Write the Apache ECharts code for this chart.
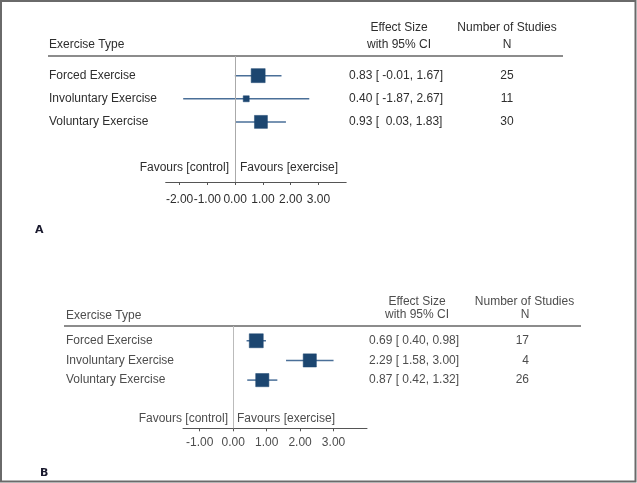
<!DOCTYPE html>
<html><head><meta charset="utf-8">
<script src="https://cdn.jsdelivr.net/npm/echarts@6/dist/echarts.min.js"></script>
<style>html,body{margin:0;padding:0;background:#fff}#c{width:637px;height:483px}</style>
</head><body><div id="c"></div>
<script>
// ---------- data ----------
const rowLabels = ['Forced Exercise', 'Involuntary Exercise', 'Voluntary Exercise'];
// Panel A
const estA = [0.83, 0.40, 0.93];
const loA = [-0.01, -1.87, 0.03];
const hiA = [1.67, 2.67, 1.83];
const nA = [25, 11, 30];
const weightA = [49, 9, 42];
const ticksA = [-2, -1, 0, 1, 2, 3];
// Panel B
const estB = [0.69, 2.29, 0.87];
const loB = [0.40, 1.58, 0.42];
const hiB = [0.98, 3.00, 1.32];
const nB = [17, 4, 26];
const weightB = [36, 32, 32];
const ticksB = [-1, 0, 1, 2, 3];

// ---------- styles ----------
const FONT = '"Liberation Sans", Arial, sans-serif';
const colA = '#2e2e2e', colB = '#4d4d4d';
const boxColor = '#1c4670', ciColor = '#4a6f98';

function fmtA(e, l, h) { return e.toFixed(2) + ' [' + (l < 0 ? ' ' : '  ') + l.toFixed(2) + ', ' + h.toFixed(2) + ']'; }
function fmtB(e, l, h) { return e.toFixed(2) + ' [ ' + l.toFixed(2) + ', ' + h.toFixed(2) + ']'; }

function forestData(est, lo, hi, w) { return est.map((e, i) => [e, i, lo[i], hi[i], w[i]]); }

function forestRender(k) {
  return function (params, api) {
    const e = api.value(0), r = api.value(1), l = api.value(2), h = api.value(3), w = api.value(4);
    const p0 = api.coord([l, r]), p1 = api.coord([h, r]), pc = api.coord([e, r]);
    const s = Math.sqrt(w) * k;
    return { type: 'group', children: [
      { type: 'line', shape: { x1: p0[0], y1: p0[1], x2: p1[0], y2: p1[1] }, style: { stroke: ciColor, lineWidth: 1.5 } },
      { type: 'rect', shape: { x: pc[0] - s / 2, y: pc[1] - s / 2, width: s, height: s }, style: { fill: boxColor, stroke: boxColor, lineWidth: 0.5 } }
    ]};
  };
}

function textRender(cfg) {
  return function (params, api) {
    const i = params.dataIndex;
    const y = api.coord([0, api.value(0)])[1];
    const st = (t, x, align) => ({ type: 'text', x: x, y: y, style: { text: t, fontSize: 12, fontFamily: FONT, fill: cfg.color, align: align, verticalAlign: 'middle' } });
    return { type: 'group', children: [
      st(rowLabels[i], cfg.labelX, 'left'),
      st(cfg.fmt(cfg.est[i], cfg.lo[i], cfg.hi[i]), cfg.esX, 'left'),
      st(String(cfg.n[i]), cfg.nX, cfg.nAlign)
    ]};
  };
}

function xAxisCfg(gi, min, max, ticks, margin) {
  return {
    type: 'value', gridIndex: gi, min: min, max: max, position: 'bottom',
    axisLine: { show: true, onZero: false, lineStyle: { color: '#555', width: 1 } },
    axisTick: { show: true, length: 3, customValues: ticks, lineStyle: { color: '#555' } },
    axisLabel: { customValues: ticks, formatter: v => v.toFixed(2), fontSize: 12, fontFamily: FONT, color: gi === 0 ? colA : colB, margin: margin },
    splitLine: { show: false }
  };
}

const chart = echarts.init(document.getElementById('c'), null, { renderer: 'canvas' });
const txt = (t, x, y, align, color, extra) => Object.assign({ type: 'text', x: x, y: y, silent: true,
  style: { text: t, fontSize: 12, fontFamily: FONT, fill: color, align: align, verticalAlign: 'middle' } }, extra || {});

chart.setOption({
  animation: false,
  backgroundColor: '#fff',
  grid: [
    { left: 165.7, top: 56, width: 180.5, height: 126 },
    { left: 183, top: 326, width: 184, height: 102.3 }
  ],
  xAxis: [ xAxisCfg(0, -2.5, 4, ticksA, 11.5), xAxisCfg(1, -1.5, 4, ticksB, 8.5) ],
  yAxis: [
    { type: 'value', gridIndex: 0, min: -0.85, max: 4.6, inverse: true, show: false },
    { type: 'value', gridIndex: 1, min: -0.75, max: 4.45, inverse: true, show: false }
  ],
  series: [
    { type: 'custom', xAxisIndex: 0, yAxisIndex: 0, clip: false, renderItem: forestRender(2.0),
      data: forestData(estA, loA, hiA, weightA), encode: { x: 0, y: 1 }, z: 3,
      markLine: { silent: true, symbol: 'none', label: { show: false }, lineStyle: { color: '#aaaaaa', type: 'solid', width: 1 }, data: [{ xAxis: 0 }] } },
    { type: 'custom', xAxisIndex: 1, yAxisIndex: 1, clip: false, renderItem: forestRender(2.33),
      data: forestData(estB, loB, hiB, weightB), encode: { x: 0, y: 1 }, z: 3,
      markLine: { silent: true, symbol: 'none', label: { show: false }, lineStyle: { color: '#bbbbbb', type: 'solid', width: 1 }, data: [{ xAxis: 0 }] } },
    { type: 'custom', xAxisIndex: 0, yAxisIndex: 0, clip: false,
      data: rowLabels.map((_, i) => [i]), encode: { y: 0 },
      renderItem: textRender({ color: colA, labelX: 49, esX: 349, nX: 507, nAlign: 'center', fmt: fmtA, est: estA, lo: loA, hi: hiA, n: nA }) },
    { type: 'custom', xAxisIndex: 1, yAxisIndex: 1, clip: false,
      data: rowLabels.map((_, i) => [i]), encode: { y: 0 },
      renderItem: textRender({ color: colB, labelX: 66, esX: 369, nX: 529, nAlign: 'right', fmt: fmtB, est: estB, lo: loB, hi: hiB, n: nB }) }
  ],
  graphic: [
    // border
    { type: 'rect', shape: { x: 1, y: 1, width: 634.5, height: 480.5 }, style: { fill: 'none', stroke: '#6a6a6a', lineWidth: 2 }, silent: true },
    // Panel A header
    txt('Exercise Type', 49, 45, 'left', colA),
    txt('Effect Size', 399, 28, 'center', colA),
    txt('with 95% CI', 399, 45, 'center', colA),
    txt('Number of Studies', 507, 28, 'center', colA),
    txt('N', 507, 45, 'center', colA),
    { type: 'line', shape: { x1: 48, y1: 56, x2: 563, y2: 56 }, style: { stroke: '#666', lineWidth: 1.5 }, silent: true },
    txt('Favours [control]', 229, 168, 'right', colA),
    txt('Favours [exercise]', 240, 168, 'left', colA),
    txt('A', 35, 230, 'left', '#1a1a2e', { style: { text: 'A', fontSize: 11, fontWeight: 'bold', fontFamily: '"DejaVu Sans", sans-serif', fill: '#1a1a2e', align: 'left', verticalAlign: 'middle' } }),
    // Panel B header
    txt('Exercise Type', 66, 316, 'left', colB),
    txt('Effect Size', 417, 302, 'center', colB),
    txt('with 95% CI', 417, 315, 'center', colB),
    txt('Number of Studies', 524.5, 302, 'center', colB),
    txt('N', 525, 315, 'center', colB),
    { type: 'line', shape: { x1: 64, y1: 326, x2: 581, y2: 326 }, style: { stroke: '#666', lineWidth: 1.5 }, silent: true },
    txt('Favours [control]', 228, 419, 'right', colB),
    txt('Favours [exercise]', 237, 419, 'left', colB),
    txt('B', 40, 473, 'left', '#1a1a2e', { style: { text: 'B', fontSize: 11, fontWeight: 'bold', fontFamily: '"DejaVu Sans", sans-serif', fill: '#1a1a2e', align: 'left', verticalAlign: 'middle' } })
  ]
});
</script></body></html>
